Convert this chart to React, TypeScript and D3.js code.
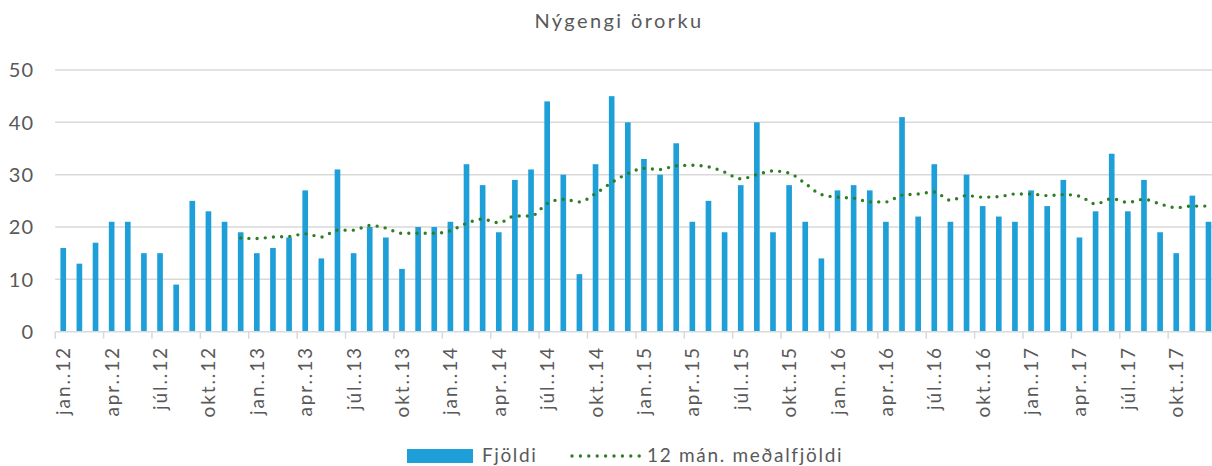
import React from 'react'
import * as d3 from 'd3'

const years = ['12', '13', '14', '15', '16', '17']
const monthNames = ['jan.', 'feb.', 'mar.', 'apr.', 'maí.', 'jún.', 'júl.', 'ágú.', 'sep.', 'okt.', 'nóv.', 'des.']
const categories = years.flatMap(y => monthNames.map(m => m + '.' + y))

// Fjöldi per month, jan.12 - des.17
const fjoldi = [
  16, 13, 17, 21, 21, 15, 15, 9, 25, 23, 21, 19,
  15, 16, 18, 27, 14, 31, 15, 20, 18, 12, 20, 20,
  21, 32, 28, 19, 29, 31, 44, 30, 11, 32, 45, 40,
  33, 30, 36, 21, 25, 19, 28, 40, 19, 28, 21, 14,
  27, 28, 27, 21, 41, 22, 32, 21, 30, 24, 22, 21,
  27, 24, 29, 18, 23, 34, 23, 29, 19, 15, 26, 21,
]

// 12 mán. meðalfjöldi, starts at des.12
const medalStart = 11
const medal = [
  17.9, 17.8, 18.1, 18.2, 18.7, 18.1, 19.4, 19.4, 20.3, 19.8, 18.8, 18.8,
  18.8, 19.3, 20.7, 21.5, 20.8, 22.1, 22.1, 24.5, 25.3, 24.8, 26.4, 28.5,
  30.2, 31.2, 31.0, 31.7, 31.8, 31.5, 30.5, 29.2, 30.0, 30.7, 30.3, 28.3,
  26.2, 25.7, 25.5, 24.8, 24.8, 26.1, 26.3, 26.7, 25.1, 26.0, 25.7, 25.8,
  26.3, 26.3, 26.0, 26.2, 25.9, 24.4, 25.4, 24.7, 25.3, 24.4, 23.7, 24.0,
  24.0,
]

const yTicks = [0, 10, 20, 30, 40, 50]

const W = 1212, H = 466
const left = 55.2, bandW = 16.13
const top = 70, bottom = 331.7
const textColor = '#595959'
const barColor = '#1e9fd8'
const lineColor = '#2f7d24'
const font = 'Lato, "Open Sans", sans-serif'

export default function App() {
  const x = d3.scaleBand().domain(categories).range([left, left + bandW * categories.length]).paddingInner(0.65).paddingOuter(0.325)
  const y = d3.scaleLinear().domain([0, 50]).range([bottom, top])
  const cx = (i: number) => (x(categories[i]) as number) + x.bandwidth() / 2
  const line = d3.line<number>()
    .x((d, i) => cx(i + medalStart))
    .y(d => y(d))
    .curve(d3.curveMonotoneX)
  const tickIdx = d3.range(0, categories.length, 3)
  const tickX = (i: number) => (x(categories[i]) as number) - x.step() * 0.325

  return (
    <svg width={W} height={H} style={{ position: 'absolute', left: 0, top: 0, fontFamily: font }}>
      <rect width={W} height={H} fill="#fff" />
      <text x={619} y={28} textAnchor="middle" fontSize={20} fill={textColor} letterSpacing={2.4}>Nýgengi örorku</text>
      {yTicks.map(t => (
        <g key={t}>
          {t > 0 && <line x1={left} x2={W} y1={y(t)} y2={y(t)} stroke="#d9d9d9" strokeWidth={1.5} />}
          <text x={34} y={y(t)} dy="0.36em" textAnchor="end" fontSize={20} fill={textColor} letterSpacing={1}>{t}</text>
        </g>
      ))}
      {fjoldi.map((v, i) => (
        <rect key={i} x={x(categories[i])} y={y(v)} width={x.bandwidth()} height={y(0) - y(v)} fill={barColor} />
      ))}
      <line x1={left} x2={W} y1={bottom} y2={bottom} stroke="#d9d9d9" strokeWidth={1.5} />
      {tickIdx.map(i => (
        <line key={i} x1={tickX(i)} x2={tickX(i)} y1={bottom} y2={bottom + 7} stroke="#d9d9d9" strokeWidth={1.5} />
      ))}
      {tickIdx.map(i => (
        <text key={i} transform={`translate(${cx(i) + 7},346) rotate(-90)`} textAnchor="end" fontSize={19} fill={textColor} letterSpacing={1.9}>{categories[i]}</text>
      ))}
      <path d={line(medal) || ''} fill="none" stroke={lineColor} strokeWidth={3.4} strokeLinecap="round" strokeDasharray="0 8.2" />
      <rect x={407} y={449} width={66} height={14} fill={barColor} />
      <text x={482} y={462} fontSize={19} fill={textColor} letterSpacing={1.6}>Fjöldi</text>
      <line x1={572} x2={640} y1={456} y2={456} stroke={lineColor} strokeWidth={3.4} strokeLinecap="round" strokeDasharray="0 8.4" />
      <text x={647} y={462} fontSize={19} fill={textColor} letterSpacing={1.7}>12 mán. meðalfjöldi</text>
    </svg>
  )
}
